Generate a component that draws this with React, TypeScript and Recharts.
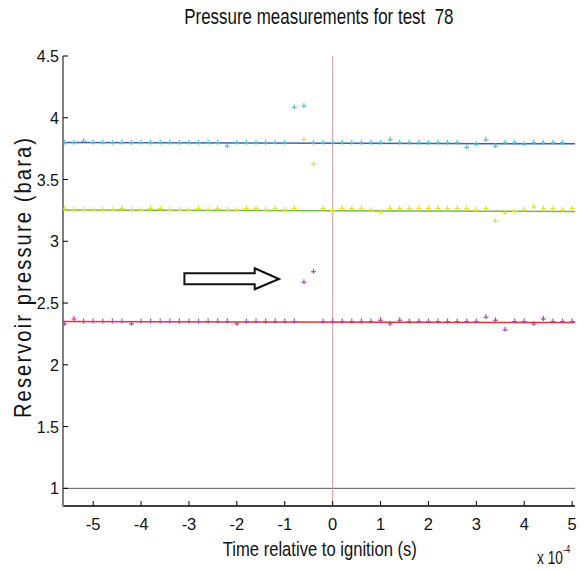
import React from "react";
import {
  ScatterChart,
  Scatter,
  XAxis,
  YAxis,
  ReferenceLine,
  ReferenceDot,
} from "recharts";

// time axis, in units of 1e-4 s
const times = [
  -5.6, -5.4, -5.2, -5.0, -4.8, -4.6, -4.4, -4.2, -4.0, -3.8, -3.6, -3.4, -3.2,
  -3.0, -2.8, -2.6, -2.4, -2.2, -2.0, -1.8, -1.6, -1.4, -1.2, -1.0, -0.8, -0.6,
  -0.4, -0.2, 0, 0.2, 0.4, 0.6, 0.8, 1.0, 1.2, 1.4, 1.6, 1.8, 2.0, 2.2, 2.4, 2.6,
  2.8, 3.0, 3.2, 3.4, 3.6, 3.8, 4.0, 4.2, 4.4, 4.6, 4.8, 5.0,
];

const sensorTop = [
  3.797, 3.797, 3.81, 3.797, 3.797, 3.797, 3.797, 3.797, 3.797, 3.797, 3.797,
  3.797, 3.797, 3.797, 3.797, 3.797, 3.797, 3.77, 3.797, 3.797, 3.797, 3.797,
  3.797, 3.797, 4.083, 4.096, 3.797, 3.797, 3.797, 3.797, 3.797, 3.797, 3.797,
  3.797, 3.821, 3.797, 3.797, 3.797, 3.797, 3.797, 3.797, 3.797, 3.759, 3.786,
  3.821, 3.77, 3.797, 3.797, 3.786, 3.797, 3.797, 3.797, 3.797,
];

const sensorMid = [
  3.263, 3.253, 3.253, 3.253, 3.253, 3.253, 3.266, 3.253, 3.253, 3.266, 3.266,
  3.253, 3.253, 3.253, 3.266, 3.253, 3.266, 3.253, 3.253, 3.266, 3.266, 3.253,
  3.266, 3.253, 3.266, 3.824, 3.625, 3.266, 3.25, 3.266, 3.266, 3.266, 3.253,
  3.236, 3.266, 3.266, 3.266, 3.266, 3.266, 3.266, 3.266, 3.266, 3.266, 3.253,
  3.266, 3.164, 3.228, 3.239, 3.253, 3.277, 3.266, 3.266, 3.253, 3.266,
];

const sensorLow = [
  2.331, 2.371, 2.35, 2.35, 2.35, 2.35, 2.35, 2.331, 2.35, 2.35, 2.35, 2.35,
  2.35, 2.35, 2.35, 2.35, 2.35, 2.35, 2.331, 2.35, 2.35, 2.35, 2.35, 2.35, 2.35,
  2.668, 2.754, 2.35, 2.35, 2.35, 2.35, 2.35, 2.35, 2.361, 2.331, 2.361, 2.35,
  2.35, 2.35, 2.35, 2.35, 2.35, 2.35, 2.35, 2.385, 2.361, 2.283, 2.35, 2.35,
  2.331, 2.371, 2.35, 2.35, 2.35,
];

// fitted baselines (start / end)
const fitEnds = [-5.63, 5.06];
const fitTop = [3.8, 3.789];
const fitMid = [3.253, 3.242];
const fitLow = [2.35, 2.342];

const xTicks = [-5, -4, -3, -2, -1, 0, 1, 2, 3, 4, 5];
const yTicks = [1, 1.5, 2, 2.5, 3, 3.5, 4, 4.5];

const FONT = '"Liberation Sans", Arial, sans-serif';

const toPoints = (ys: number[]) => ys.map((y, i) => ({ x: times[i], y }));
const toFit = (ys: number[]) => ys.map((y, i) => ({ x: fitEnds[i], y }));

const Plus = (color: string) => (props: any) => {
  const { cx, cy } = props;
  if (cx == null || cy == null) return <g />;
  return (
    <g stroke={color} strokeWidth={1.2}>
      <line x1={cx - 2.5} y1={cy} x2={cx + 2.5} y2={cy} />
      <line x1={cx} y1={cy - 3} x2={cx} y2={cy + 2} />
    </g>
  );
};

const NoDot = () => <g />;

const XTick = (props: any) => {
  const { x, y, payload } = props;
  return (
    <g>
      <line x1={x} y1={y} x2={x} y2={y - 5} stroke="#000" />
      <text
        x={x}
        y={y + 23.5}
        textAnchor="middle"
        fontFamily={FONT}
        fontSize={16.5}
        fill="#111"
      >
        {payload.value}
      </text>
    </g>
  );
};

const YTick = (props: any) => {
  const { x, y, payload } = props;
  return (
    <g>
      <line x1={x} y1={y} x2={x + 5} y2={y} stroke="#000" />
      <text
        x={x - 4}
        y={y + 6}
        textAnchor="end"
        fontFamily={FONT}
        fontSize={16}
        fill="#111"
      >
        {payload.value}
      </text>
    </g>
  );
};

// outlined arrow pointing at the outliers, drawn from its tip
const Arrow = (props: any) => {
  const { cx, cy } = props;
  const pts = [
    [-94.6, -5.7],
    [-24.3, -5.7],
    [-24.3, -10.7],
    [0, 0],
    [-24.3, 10.3],
    [-24.3, 5.3],
    [-94.6, 5.3],
  ]
    .map(([dx, dy]) => `${cx + dx},${cy + dy}`)
    .join(" ");
  return <polygon points={pts} fill="#fff" stroke="#111" strokeWidth={2} />;
};

export default function App() {
  return (
    <div
      style={{
        position: "absolute",
        left: 0,
        top: 0,
        width: 584,
        height: 570,
        background: "#fff",
        fontFamily: FONT,
        color: "#111",
      }}
    >
      <ScatterChart
        width={584}
        height={570}
        margin={{ top: 56, right: 9, bottom: 34, left: 8 }}
      >
        <XAxis
          type="number"
          dataKey="x"
          domain={[-5.63, 5.06]}
          ticks={xTicks}
          allowDataOverflow
          tickSize={0}
          tickMargin={0}
          height={30}
          tick={<XTick />}
          axisLine={{ stroke: "#000", strokeWidth: 1.5 }}
        />
        <YAxis
          type="number"
          dataKey="y"
          domain={[0.857, 4.5]}
          ticks={yTicks}
          allowDataOverflow
          tickSize={0}
          tickMargin={0}
          width={55}
          tick={<YTick />}
          axisLine={{ stroke: "#808080", strokeWidth: 2 }}
        />
        <ReferenceLine y={1} stroke="#555" strokeWidth={1} />
        <ReferenceLine x={0} stroke="#e39a9a" strokeWidth={1} />
        <Scatter
          data={toFit(fitTop)}
          line={{ stroke: "#3e60b4", strokeWidth: 1.5 }}
          shape={NoDot}
          isAnimationActive={false}
        />
        <Scatter
          data={toFit(fitMid)}
          line={{ stroke: "#74bc40", strokeWidth: 1.5 }}
          shape={NoDot}
          isAnimationActive={false}
        />
        <Scatter
          data={toFit(fitLow)}
          line={{ stroke: "#e8303a", strokeWidth: 1.5 }}
          shape={NoDot}
          isAnimationActive={false}
        />
        <Scatter
          data={toPoints(sensorTop)}
          shape={Plus("#52bcdc")}
          isAnimationActive={false}
        />
        <Scatter
          data={toPoints(sensorMid)}
          shape={Plus("#e4e02a")}
          isAnimationActive={false}
        />
        <Scatter
          data={toPoints(sensorLow)}
          shape={Plus("#b048b4")}
          isAnimationActive={false}
        />
        <ReferenceDot
          x={-1.12}
          y={2.695}
          ifOverflow="visible"
          shape={Arrow}
        />
      </ScatterChart>
      <div
        style={{
          position: "absolute",
          top: 4,
          left: 0,
          width: 638,
          textAlign: "center",
          fontSize: 22,
          whiteSpace: "pre",
        }}
      >
        <span style={{ display: "inline-block", transform: "scaleX(0.77)" }}>
          Pressure measurements for test  78
        </span>
      </div>
      <div
        style={{
          position: "absolute",
          top: 537,
          left: 0,
          width: 640,
          textAlign: "center",
          fontSize: 20.5,
          lineHeight: "23px",
          whiteSpace: "pre",
        }}
      >
        <span style={{ display: "inline-block", transform: "scaleX(0.81)" }}>
          Time relative to ignition (s)
        </span>
      </div>
      <div
        style={{
          position: "absolute",
          top: 547,
          left: 537,
          fontSize: 18.5,
          lineHeight: "21px",
          whiteSpace: "pre",
          transform: "scaleX(0.74)",
          transformOrigin: "left center",
        }}
      >
        x 10
      </div>
      <div
        style={{
          position: "absolute",
          top: 544,
          left: 563,
          fontSize: 10,
          lineHeight: "11px",
          whiteSpace: "pre",
          transform: "scaleX(0.8)",
          transformOrigin: "left center",
        }}
      >
        -4
      </div>
      <div
        style={{
          position: "absolute",
          left: 23,
          top: 277,
          transform: "translate(-50%, -50%) rotate(-90deg) scaleX(0.84)",
          fontSize: 24,
          letterSpacing: 2.5,
          whiteSpace: "nowrap",
        }}
      >
        Reservoir pressure (bara)
      </div>
    </div>
  );
}
